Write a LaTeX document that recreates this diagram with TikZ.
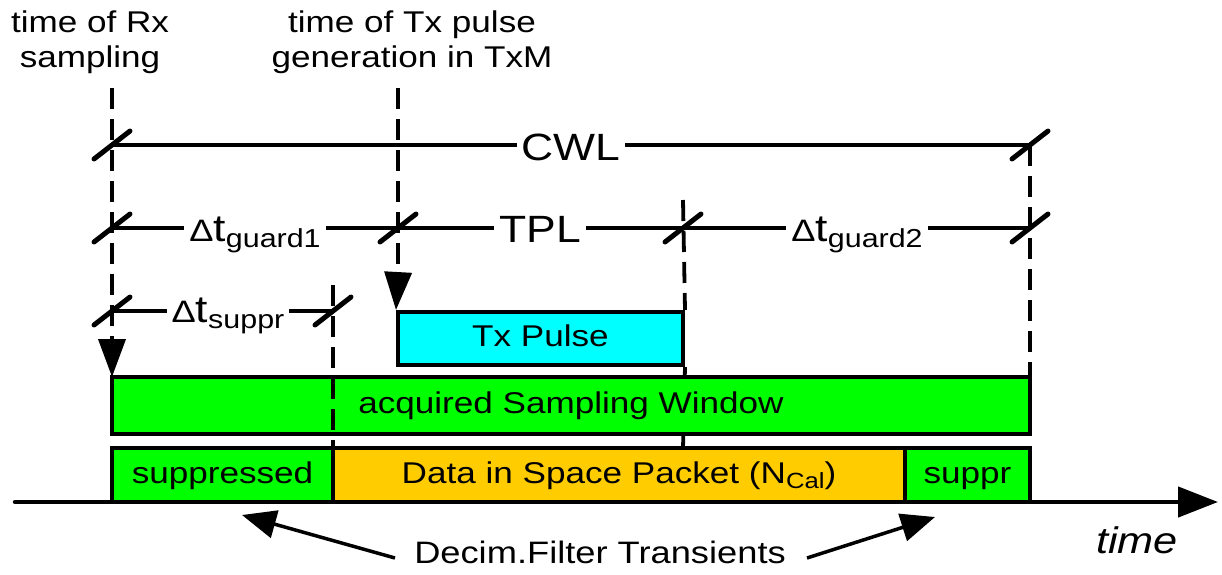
\documentclass[tikz,border=0pt]{standalone}
\usepackage{fontspec}
\setmainfont{Liberation Sans}[FakeStretch=1.17]
\usetikzlibrary{arrows.meta}

\definecolor{wingreen}{HTML}{00FF00}
\definecolor{pulsecyan}{HTML}{00FFFF}
\definecolor{dataorange}{HTML}{FFCC00}

\newcommand{\pxfont}[1]{\fontsize{#1}{#1}\selectfont}
% delta-t symbol with a lowered index
\newcommand{\dtlabel}[1]{{\pxfont{31}Δ}{\pxfont{38}t}\raisebox{-6pt}{\pxfont{26}#1}}

\tikzset{
  guide/.style={line width=3.8pt, dash pattern=on 21pt off 10pt},
  solidguide/.style={line width=3.8pt},
  headarrow/.style={line width=3.8pt, -{Triangle[length=38pt,width=27pt]}},
  dimline/.style={line width=4pt},
  dimlabel/.style={fill=white, inner xsep=5pt, inner ysep=1pt, anchor=base},
  dimtick/.pic={\draw[line width=5pt, line cap=round] (-18,14) -- (18,-14);},
  bar/.style={draw=black, line width=4pt, inner sep=0pt, text height=22pt,
    text depth=6pt, font=\pxfont{30}},
  toplabel/.style={align=center, inner sep=0pt, anchor=north,
    font=\fontsize{30}{35}\selectfont},
}

\begin{document}
\begin{tikzpicture}[x=1pt, y=-1pt]
\useasboundingbox (0,0) rectangle (1222,574);

% event labels
\node[toplabel] (rxlabel) at (90,11) {time of Rx\\sampling};
\node[toplabel] (txlabel) at (412,11) {time of Tx pulse\\generation in TxM};

% reference points of the time grid
\coordinate (rxtop)   at (112,88);
\coordinate (rxhead)  at (112,340);
\coordinate (txtop)   at (398,88);
\coordinate (txhead)  at (398,274);
\coordinate (tpltop)  at (683,200);
\coordinate (tplbot)  at (683,448);
\coordinate (endtop)  at (1030,145);
\coordinate (suptop)  at (333,285);
\coordinate (supbot)  at (333,448);

\coordinate (cwlA) at (112,145);  \coordinate (cwlB) at (1030,145);
\coordinate (g1A)  at (112,228);  \coordinate (g1B)  at (398,228);
\coordinate (tpA)  at (398,228);  \coordinate (tpB)  at (683,228);
\coordinate (g2A)  at (683,228);  \coordinate (g2B)  at (1030,228);
\coordinate (spA)  at (112,311);  \coordinate (spB)  at (333,311);

% time slots
\node[bar, fill=pulsecyan, minimum width=285pt, minimum height=53pt]
  (pulse) at (540.5,338.5) {Tx Pulse};

% vertical guides
\draw[guide] (rxtop) -- (rxhead);
\draw[headarrow] (rxhead) -- (112,377);
\draw[guide] (txtop) -- (txhead);
\draw[headarrow] (txhead) -- (pulse.north west);
\draw[guide] (tpltop) -- (pulse.north east);
\draw[solidguide] (pulse.south east) -- (tplbot);
\draw[guide] (endtop) -- (1030,377);

\node[bar, fill=wingreen, minimum width=918pt, minimum height=57pt]
  (win) at (571,405.5) {acquired Sampling Window};
\draw[guide] (suptop) -- (supbot);

\node[bar, fill=wingreen, minimum width=221pt, minimum height=54pt]
  (supA) at (222.5,475) {suppressed};
\node[bar, fill=dataorange, minimum width=572pt, minimum height=54pt]
  (data) at (619,475) {Data in Space Packet (N\raisebox{-5pt}{\pxfont{22}Cal})};
\node[bar, fill=wingreen, minimum width=125pt, minimum height=54pt]
  (supB) at (967.5,475) {suppr};

% dimension lines
\draw[dimline] (cwlA) -- (cwlB);
\node[dimlabel, font=\pxfont{38}] (cwl) at (571,160) {CWL};
\draw[dimline] (g1A) -- (g2B);
\node[dimlabel] (g1) at (255,241) {\dtlabel{guard1}};
\node[dimlabel, font=\pxfont{38}] (tpl) at (540,242) {TPL};
\node[dimlabel] (g2) at (857,241) {\dtlabel{guard2}};
\draw[dimline] (spA) -- (spB);
\node[dimlabel] (sp) at (228,322) {\dtlabel{suppr}};

\pic at (cwlA) {dimtick};
\pic at (cwlB) {dimtick};
\pic at (g1A) {dimtick};
\pic at (g1B) {dimtick};
\pic at (tpB) {dimtick};
\pic at (g2B) {dimtick};
\pic at (spA) {dimtick};
\pic at (spB) {dimtick};

% time axis
\coordinate (axA) at (15,502);
\coordinate (axB) at (1218,502);
\draw[line width=4.5pt, line cap=round, -{Triangle[length=40pt,width=30pt]}] (axA) -- (axB);
\node[anchor=base, inner sep=0pt, font=\itshape\pxfont{37}] (timelabel) at (1137,553) {time};

% filter transient annotation
\node[anchor=base, inner sep=0pt, font=\pxfont{31}] (decim) at (600,563) {Decim.Filter Transients};
\coordinate (trL) at (395,558);
\coordinate (trLtip) at (242,515);
\coordinate (trR) at (807,558);
\coordinate (trRtip) at (935,517);
\draw[line width=3.5pt, -{Triangle[length=34pt,width=28pt]}] (trL) -- (trLtip);
\draw[line width=3.5pt, -{Triangle[length=34pt,width=28pt]}] (trR) -- (trRtip);
\end{tikzpicture}
\end{document}
